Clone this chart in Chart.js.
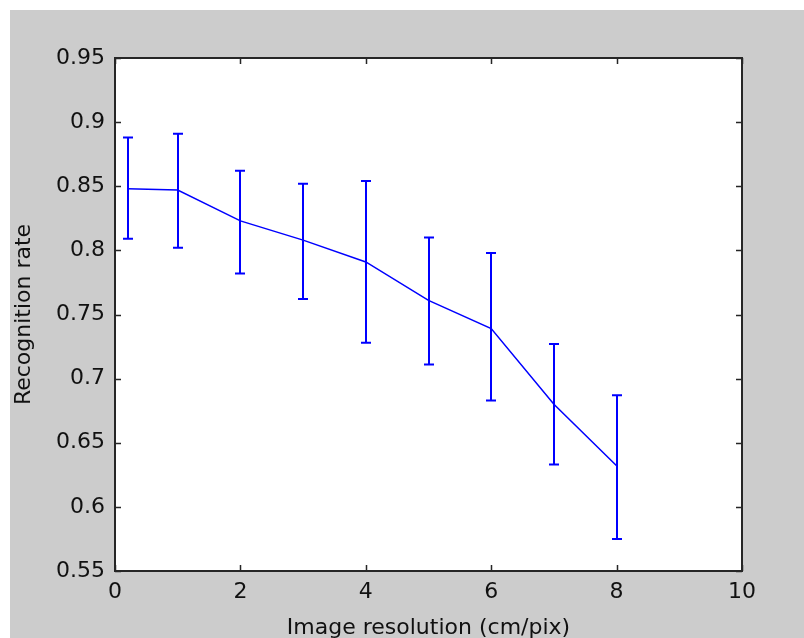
<!DOCTYPE html>
<html>
<head>
<meta charset="utf-8">
<script src="https://cdn.jsdelivr.net/npm/chart.js@4/dist/chart.umd.min.js"></script>
<style>
html,body{margin:0;padding:0;background:#ffffff;}
canvas{display:block;}
</style>
</head>
<body>
<canvas id="c" width="804" height="638"></canvas>
<script>
// ---- data ----
const resolution = [0.2, 1, 2, 3, 4, 5, 6, 7, 8];
const rate       = [0.848, 0.847, 0.823, 0.808, 0.791, 0.761, 0.739, 0.680, 0.632];
const rateUpper  = [0.888, 0.891, 0.862, 0.852, 0.854, 0.810, 0.798, 0.727, 0.687];
const rateLower  = [0.809, 0.802, 0.782, 0.762, 0.728, 0.711, 0.683, 0.633, 0.575];
const xTicks = [0, 2, 4, 6, 8, 10];
const yTicks = [0.55, 0.6, 0.65, 0.7, 0.75, 0.8, 0.85, 0.9, 0.95];
const yTickLabels = ['0.55', '0.6', '0.65', '0.7', '0.75', '0.8', '0.85', '0.9', '0.95'];
const xTitle = 'Image resolution (cm/pix)';
const yTitle = 'Recognition rate';

const FONT = 'DejaVu Sans';

const bgPlugin = {
  id: 'bg',
  beforeDraw(chart) {
    const {ctx, chartArea: a} = chart;
    ctx.save();
    ctx.fillStyle = '#ffffff';
    ctx.fillRect(0, 0, chart.width, chart.height);
    ctx.fillStyle = '#cccccc';
    ctx.fillRect(10, 10, chart.width - 10, chart.height - 10);
    ctx.fillStyle = '#ffffff';
    ctx.fillRect(a.left, a.top, a.right - a.left, a.bottom - a.top);
    ctx.restore();
  }
};

const errPlugin = {
  id: 'err',
  afterDatasetsDraw(chart) {
    const {ctx} = chart;
    const xs = chart.scales.x, ys = chart.scales.y;
    ctx.save();
    ctx.strokeStyle = '#0000ff';
    ctx.lineWidth = 2;
    for (let i = 0; i < resolution.length; i++) {
      const px = Math.round(xs.getPixelForValue(resolution[i]));
      const yt = ys.getPixelForValue(rateUpper[i]);
      const yb = ys.getPixelForValue(rateLower[i]);
      ctx.beginPath();
      ctx.moveTo(px, yt); ctx.lineTo(px, yb);
      ctx.moveTo(px - 5, yt); ctx.lineTo(px + 5, yt);
      ctx.moveTo(px - 5, yb); ctx.lineTo(px + 5, yb);
      ctx.stroke();
    }
    ctx.restore();
  }
};

const boxPlugin = {
  id: 'box',
  afterDraw(chart) {
    const {ctx, chartArea: a} = chart;
    const xs = chart.scales.x, ys = chart.scales.y;
    const tl = 6;
    ctx.save();
    ctx.strokeStyle = '#262626';
    ctx.lineWidth = 1.5;
    ctx.beginPath();
    xs.ticks.forEach(t => {
      const px = Math.round(xs.getPixelForValue(t.value)) + 0.5;
      ctx.moveTo(px, a.bottom); ctx.lineTo(px, a.bottom - tl);
      ctx.moveTo(px, a.top); ctx.lineTo(px, a.top + tl);
    });
    ys.ticks.forEach(t => {
      const py = Math.round(ys.getPixelForValue(t.value)) + 0.5;
      ctx.moveTo(a.left, py); ctx.lineTo(a.left + tl, py);
      ctx.moveTo(a.right, py); ctx.lineTo(a.right - tl, py);
    });
    ctx.stroke();
    ctx.lineWidth = 2;
    ctx.strokeRect(a.left, a.top, a.right - a.left, a.bottom - a.top);
    ctx.restore();
  }
};

new Chart(document.getElementById('c'), {
  type: 'scatter',
  data: {
    datasets: [{
      data: resolution.map((x, i) => ({x: x, y: rate[i]})),
      showLine: true,
      borderColor: '#0000ff',
      borderWidth: 1.5,
      pointRadius: 0,
      pointHoverRadius: 0,
      fill: false
    }]
  },
  options: {
    responsive: false,
    animation: false,
    events: [],
    layout: {padding: {left: 0, top: 58, right: 62, bottom: 0}},
    plugins: {legend: {display: false}, tooltip: {enabled: false}},
    scales: {
      x: {
        type: 'linear',
        min: 0, max: 10,
        afterBuildTicks(s) { s.ticks = xTicks.map(v => ({value: v})); },
        afterFit(s) { s.height = 67; },
        grid: {display: false, drawTicks: false},
        border: {display: false},
        ticks: {
          color: '#111111',
          font: {family: FONT, size: 22},
          padding: 8,
          maxRotation: 0,
          callback: (v) => String(v)
        },
        title: {
          display: true, text: xTitle, color: '#111111',
          font: {family: FONT, size: 22, lineHeight: 1},
          padding: {top: 0, bottom: -1}
        }
      },
      y: {
        type: 'linear',
        min: 0.55, max: 0.95,
        afterBuildTicks(s) { s.ticks = yTicks.map(v => ({value: v})); },
        afterFit(s) { s.width = 115; },
        grid: {display: false, drawTicks: false},
        border: {display: false},
        ticks: {
          color: '#111111',
          font: {family: FONT, size: 22},
          padding: 10,
          callback: (v) => {
            const i = yTicks.findIndex(t => Math.abs(t - v) < 1e-9);
            return i >= 0 ? yTickLabels[i] : '';
          }
        },
        title: {
          display: true, text: yTitle, color: '#111111',
          font: {family: FONT, size: 22, lineHeight: 1},
          padding: {top: 13, bottom: 0}
        }
      }
    }
  },
  plugins: [bgPlugin, errPlugin, boxPlugin]
});
</script>
</body>
</html>
